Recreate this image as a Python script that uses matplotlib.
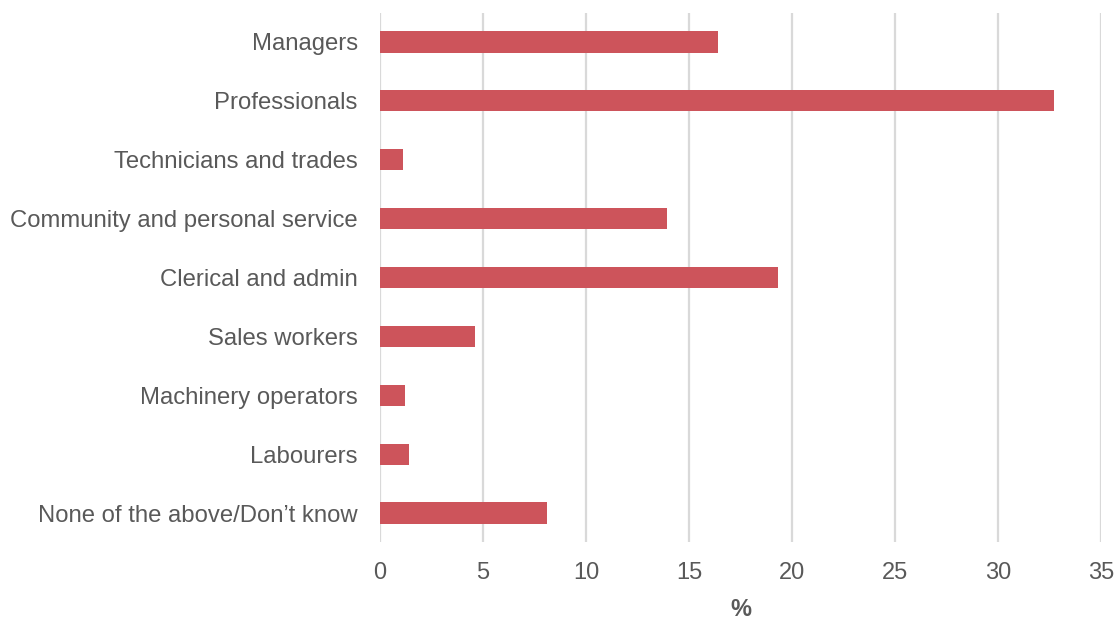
import matplotlib.pyplot as plt
import numpy as np

plt.rcParams['font.family'] = ['Liberation Sans', 'DejaVu Sans']

categories = [
    "Managers",
    "Professionals",
    "Technicians and trades",
    "Community and personal service",
    "Clerical and admin",
    "Sales workers",
    "Machinery operators",
    "Labourers",
    "None of the above/Don\u2019t know",
]
values = [16.4, 32.7, 1.1, 13.9, 19.3, 4.6, 1.2, 1.4, 8.1]
xticks = [0, 5, 10, 15, 20, 25, 30, 35]

bar_color = "#CD545B"
text_color = "#595959"
grid_color = "#D9D9D9"

fig = plt.figure(figsize=(11.19, 6.19), dpi=100)
ax = fig.add_axes([0.3396, 0.1236, 0.6447, 0.8562])

y = np.arange(len(categories))
ax.barh(y, values, height=0.36, color=bar_color, zorder=3)

ax.set_ylim(len(categories) - 0.5, -0.5)
ax.set_xlim(0, 35)
ax.set_yticks(y)
ax.set_yticklabels(categories, fontsize=17.2, color=text_color)
ax.set_xticks(xticks)
ax.set_xticklabels([str(t) for t in xticks], fontsize=17, color=text_color)

ax.grid(axis='x', color=grid_color, linewidth=1.6, zorder=0)
ax.tick_params(axis='both', length=0)
ax.tick_params(axis='x', pad=14)
ax.tick_params(axis='y', pad=16)
for s in ax.spines.values():
    s.set_visible(False)

ax.set_xlabel("%", fontsize=17, fontweight='bold', color=text_color, labelpad=10)

fig.savefig("out.png", dpi=100)
